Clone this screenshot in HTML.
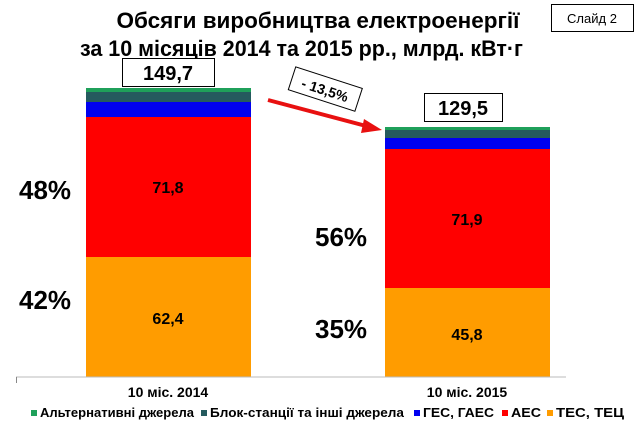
<!DOCTYPE html>
<html><head><meta charset="utf-8"><style>
html,body{margin:0;padding:0;background:#fff;}
text{font-family:"Liberation Sans",Arial,sans-serif;font-weight:bold;}
</style></head><body>
<svg width="638" height="442" viewBox="0 0 638 442" xmlns="http://www.w3.org/2000/svg">
<text x="318" y="28" font-size="22.5" text-anchor="middle">Обсяги виробництва електроенергії</text>
<text x="80" y="56" font-size="22.5" textLength="443" lengthAdjust="spacingAndGlyphs">за  10 місяців 2014 та 2015 рр., млрд. кВт·г</text>
<rect x="551.5" y="4.5" width="82" height="27" fill="none" stroke="#000" stroke-width="1"/>
<text x="592" y="23" font-size="13" style="font-weight:normal" text-anchor="middle">Слайд 2</text>

<rect x="122.5" y="58.5" width="92" height="28" fill="#fff" stroke="#000"/>
<text x="168" y="80" font-size="20" text-anchor="middle">149,7</text>
<rect x="86" y="88" width="165" height="4" fill="#1fa05a"/>
<rect x="86" y="92" width="165" height="10" fill="#255a5e"/>
<rect x="86" y="102" width="165" height="15" fill="#0000f0"/>
<rect x="86" y="117" width="165" height="140" fill="#ff0000"/>
<rect x="86" y="257" width="165" height="120" fill="#ff9c00"/>
<text x="168" y="193" font-size="16" text-anchor="middle">71,8</text>
<text x="168" y="324" font-size="16" text-anchor="middle">62,4</text>

<rect x="424.5" y="93.5" width="78" height="28" fill="#fff" stroke="#000"/>
<text x="463" y="115" font-size="20" text-anchor="middle">129,5</text>
<rect x="385" y="127" width="165" height="3" fill="#1fa05a"/>
<rect x="385" y="130" width="165" height="8" fill="#255a5e"/>
<rect x="385" y="138" width="165" height="11" fill="#0000f0"/>
<rect x="385" y="149" width="165" height="139" fill="#ff0000"/>
<rect x="385" y="288" width="165" height="89" fill="#ff9c00"/>
<text x="467" y="225" font-size="16" text-anchor="middle">71,9</text>
<text x="467" y="340" font-size="16" text-anchor="middle">45,8</text>

<text x="19" y="199" font-size="26">48%</text>
<text x="19" y="309" font-size="26">42%</text>
<text x="315" y="246" font-size="26">56%</text>
<text x="315" y="338" font-size="26">35%</text>

<g transform="translate(325,90) rotate(18)">
<rect x="-35" y="-13" width="70" height="24" fill="#fff" stroke="#000"/>
<text x="0" y="5" font-size="14" text-anchor="middle">- 13,5%</text>
</g>
<line x1="268" y1="100" x2="370" y2="127" stroke="#e81010" stroke-width="4"/>
<polygon points="382,130 364,119 361,133" fill="#e81010"/>

<line x1="16" y1="377" x2="566" y2="377" stroke="#bbb" stroke-width="1"/>
<line x1="16.5" y1="377" x2="16.5" y2="383" stroke="#888"/>
<text x="168" y="397" font-size="14" text-anchor="middle">10 міс. 2014</text>
<text x="467" y="397" font-size="14" text-anchor="middle">10 міс. 2015</text>

<rect x="31" y="410" width="6" height="6" fill="#1fa05a"/>
<text x="40" y="417" font-size="13" textLength="154" lengthAdjust="spacingAndGlyphs">Альтернативні джерела</text>
<rect x="201" y="410" width="6" height="6" fill="#255a5e"/>
<text x="210" y="417" font-size="13" textLength="194" lengthAdjust="spacingAndGlyphs">Блок-станції та інші джерела</text>
<rect x="414" y="410" width="6" height="6" fill="#0000f0"/>
<text x="423" y="417" font-size="13" textLength="71" lengthAdjust="spacingAndGlyphs">ГЕС, ГАЕС</text>
<rect x="502" y="410" width="6" height="6" fill="#ff0000"/>
<text x="511" y="417" font-size="13" textLength="30" lengthAdjust="spacingAndGlyphs">АЕС</text>
<rect x="547" y="410" width="6" height="6" fill="#ff9c00"/>
<text x="556" y="417" font-size="13" textLength="68" lengthAdjust="spacingAndGlyphs">ТЕС, ТЕЦ</text>
</svg>
</body></html>
